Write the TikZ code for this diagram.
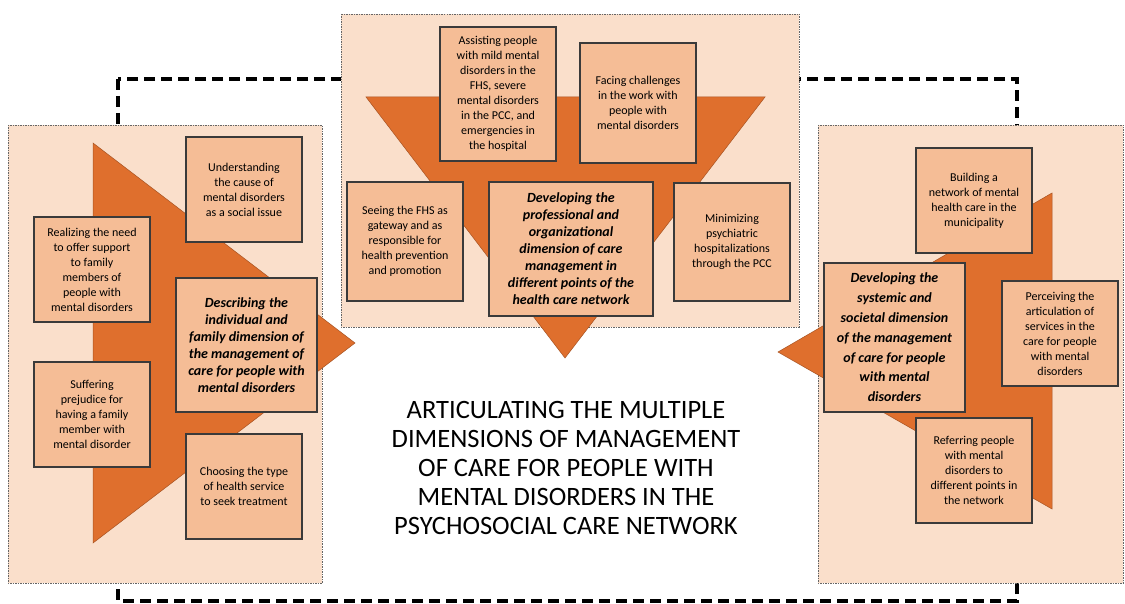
\documentclass[tikz,border=0pt]{standalone}
\usepackage{fontspec}
\setmainfont{Carlito}

\definecolor{panelfill}{HTML}{FADFCB}
\definecolor{boxfill}{HTML}{F5BD96}
\definecolor{wedgeorange}{HTML}{DF6F2D}
\definecolor{boxline}{HTML}{3A3A3A}

\begin{document}
\begin{tikzpicture}[x=1pt, y=-1pt,
  panel/.style={fill=panelfill, draw=gray!80!black, line width=0.7pt, dash pattern=on 1.5pt off 1pt},
  wedge/.style={fill=wedgeorange, draw=wedgeorange!75!black, line width=0.5pt},
  subbox/.style={draw=boxline, fill=boxfill, line width=1.1pt, align=center, inner sep=2pt,
    minimum width=116pt, minimum height=105pt, font=\fontsize{12}{15}\selectfont},
  mainbox/.style={subbox, font=\fontsize{14}{17}\selectfont\bfseries\itshape}]

\fill[white] (0,0) rectangle (1125,604);
\useasboundingbox (0,0) rectangle (1125,604);

% Outer dashed frame
\draw[line width=3.5pt, dash pattern=on 11pt off 6pt] (118,79) rectangle (1017,601);

% Three panels
\draw[panel] (8,125) rectangle (322,583);
\draw[panel] (341,14) rectangle (799,327);
\draw[panel] (818,125) rectangle (1123,583);

% Define points of the wedges
\coordinate (L1) at (93,143);
\coordinate (L2) at (93,543);
\coordinate (L3) at (355,343);
\coordinate (T1) at (366,97);
\coordinate (T2) at (765,97);
\coordinate (T3) at (565,358);
\coordinate (R1) at (1052,193);
\coordinate (R2) at (1052,509);
\coordinate (R3) at (778,352);

% Draw wedges
\draw[wedge] (L1) -- (L3) -- (L2) -- cycle;
\draw[wedge] (T1) -- (T2) -- (T3) -- cycle;
\draw[wedge] (R1) -- (R3) -- (R2) -- cycle;

% Left panel
\node[subbox] (understand) at (244,189.5) {Understanding\\the cause of\\mental disorders\\as a social issue};
\node[subbox] (realize) at (92,269.5) {Realizing the need\\to offer support\\to family\\members of\\people with\\mental disorders};
\node[subbox] (suffer) at (92,414.5) {Suffering\\prejudice for\\having a family\\member with\\mental disorder};
\node[subbox] (choose) at (244,486.5) {Choosing the type\\of health service\\to seek treatment};
\node[mainbox, minimum width=141pt, minimum height=134pt] (describe) at (246.5,345)
  {Describing the\\individual and\\family dimension of\\the management of\\care for people with\\mental disorders};

% Top panel
\node[subbox, minimum height=134pt] (assist) at (498,94) {Assisting people\\with mild mental\\disorders in the\\FHS, severe\\mental disorders\\in the PCC, and\\emergencies in\\the hospital};
\node[subbox, minimum height=120pt] (face) at (638,103) {Facing challenges\\in the work with\\people with\\mental disorders};
\node[subbox, minimum height=119pt] (see) at (405,241.5) {Seeing the FHS as\\gateway and as\\responsible for\\health prevention\\and promotion};
\node[subbox, minimum height=118pt] (minimize) at (732,242) {Minimizing\\psychiatric\\hospitalizations\\through the PCC};
\node[mainbox, minimum width=164pt, minimum height=134pt] (develop) at (571,249)
  {Developing the\\professional and\\organizational\\dimension of care\\management in\\different points of the\\health care network};

% Right panel
\node[subbox] (build) at (974,200.5) {Building a\\network of mental\\health care in the\\municipality};
\node[subbox] (perceive) at (1060,333.5) {Perceiving the\\articulation of\\services in the\\care for people\\with mental\\disorders};
\node[subbox] (refer) at (974,470.5) {Referring people\\with mental\\disorders to\\different points in\\the network};
\node[mainbox, minimum width=141pt, minimum height=149pt, font=\fontsize{14}{19.8}\selectfont\bfseries\itshape] (systemic) at (894.5,337.5)
  {Developing the\\systemic and\\societal dimension\\of the management\\of care for people\\with mental\\disorders};

% Title
\node[align=center, font=\fontsize{26.5}{28.8}\selectfont] (title) at (566,468)
  {ARTICULATING THE MULTIPLE\\DIMENSIONS OF MANAGEMENT\\OF CARE FOR PEOPLE WITH\\MENTAL DISORDERS IN THE\\PSYCHOSOCIAL CARE NETWORK};

\end{tikzpicture}
\end{document}
